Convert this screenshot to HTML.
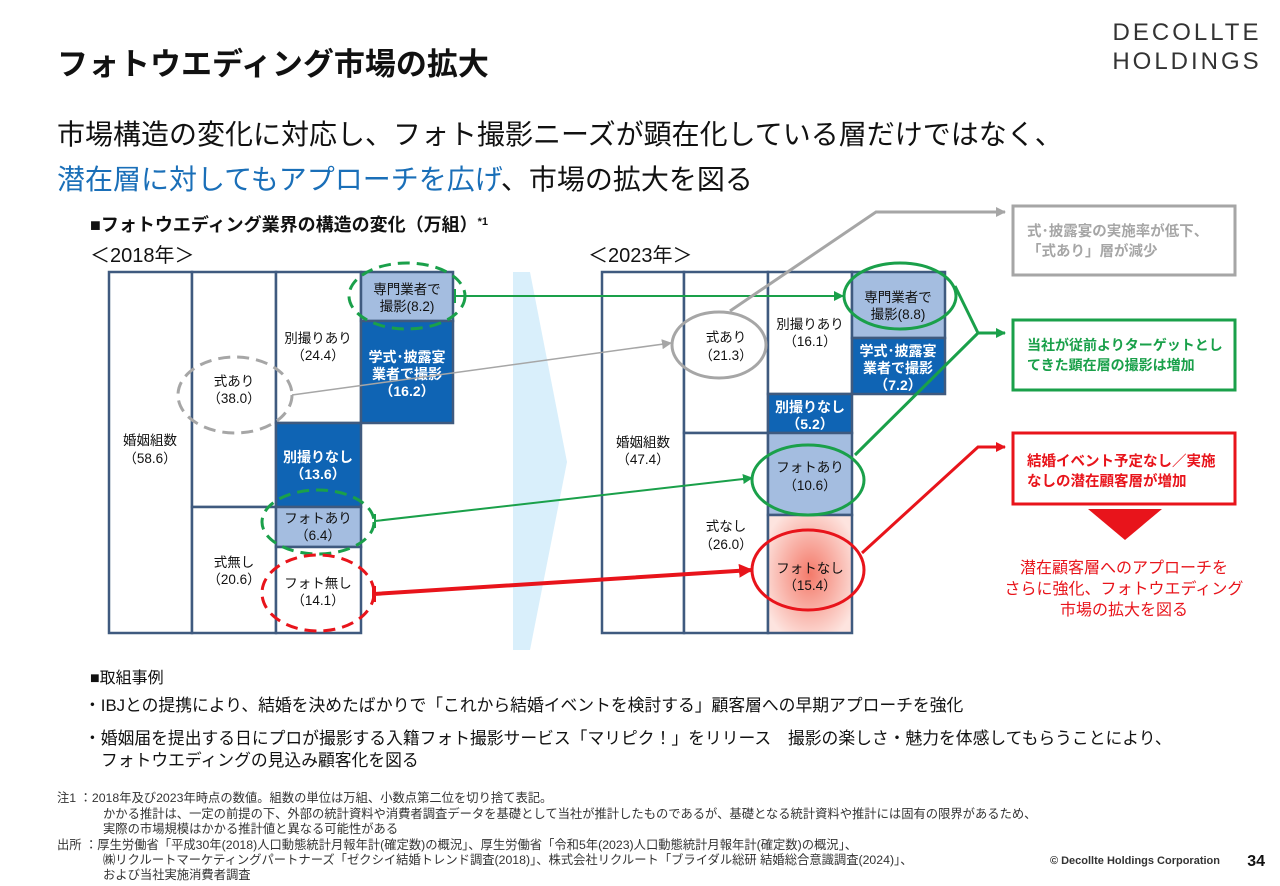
<!DOCTYPE html>
<html><head><meta charset="utf-8"><style>
body{margin:0;background:#fff;}
svg{display:block;font-family:"Liberation Sans","Noto Sans CJK JP",sans-serif;}
</style></head><body>
<svg width="1280" height="886" viewBox="0 0 1280 886" xmlns="http://www.w3.org/2000/svg">
<defs>
<radialGradient id="rg" cx="50%" cy="50%" r="60%"><stop offset="0" stop-color="#f47a6a"/><stop offset="1" stop-color="#fde4df"/></radialGradient>
<marker id="ag" markerWidth="10" markerHeight="10" refX="9" refY="5" orient="auto" markerUnits="userSpaceOnUse"><path d="M0,0 L10,5 L0,10z" fill="#1aa04a"/></marker>
<marker id="agr" markerWidth="10" markerHeight="10" refX="9" refY="5" orient="auto" markerUnits="userSpaceOnUse"><path d="M0,0 L10,5 L0,10z" fill="#a6a6a6"/></marker>
<marker id="ar" markerWidth="14" markerHeight="14" refX="13" refY="7" orient="auto" markerUnits="userSpaceOnUse"><path d="M0,0 L14,7 L0,14z" fill="#e8141b"/></marker>
<marker id="ar2" markerWidth="10" markerHeight="10" refX="9" refY="5" orient="auto" markerUnits="userSpaceOnUse"><path d="M0,0 L10,5 L0,10z" fill="#e8141b"/></marker>
</defs>

<text x="57" y="75" font-size="31" font-weight="bold" fill="#111">フォトウエディング市場の拡大</text>
<text x="1187" y="40" font-size="24" fill="#333" text-anchor="middle" letter-spacing="3">DECOLLTE</text>
<text x="1187" y="69" font-size="24" fill="#333" text-anchor="middle" letter-spacing="3">HOLDINGS</text>

<text x="57" y="144" font-size="28" fill="#111">市場構造の変化に対応し、フォト撮影ニーズが顕在化している層だけではなく、</text>
<text x="57" y="189" font-size="28" fill="#111"><tspan fill="#1a6fb8">潜在層に対してもアプローチを広げ</tspan>、市場の拡大を図る</text>

<text x="90" y="231" font-size="18" font-weight="bold" fill="#111">■フォトウエディング業界の構造の変化（万組）<tspan font-size="11" dy="-6">*1</tspan></text>
<text x="90" y="262" font-size="20" fill="#111">＜2018年＞</text>
<text x="588" y="262" font-size="20" fill="#111">＜2023年＞</text>

<path d="M513,272 L530,272 L567,462 L530,650 L513,650 Z" fill="#d9effb"/>

<g stroke="#3f5a7f" stroke-width="2.5" fill="#fff">
<rect x="109" y="272" width="83" height="361"/>
<rect x="192" y="272" width="84" height="235"/>
<rect x="192" y="507" width="84" height="126"/>
<rect x="276" y="272" width="85" height="151"/>
<rect x="276" y="423" width="85" height="84" fill="#0f64b4"/>
<rect x="276" y="507" width="85" height="40" fill="#a4bde0"/>
<rect x="276" y="547" width="85" height="86"/>
<rect x="361" y="272" width="92" height="49" fill="#a4bde0"/>
<rect x="361" y="321" width="92" height="102" fill="#0f64b4"/>
<rect x="602" y="272" width="82" height="361"/>
<rect x="684" y="272" width="84" height="161"/>
<rect x="684" y="433" width="84" height="200"/>
<rect x="768" y="272" width="84" height="122"/>
<rect x="768" y="394" width="84" height="39" fill="#0f64b4"/>
<rect x="768" y="433" width="84" height="82" fill="#a4bde0"/>
<rect x="768" y="515" width="84" height="118" fill="url(#rg)"/>
<rect x="852" y="272" width="93" height="66" fill="#a4bde0"/>
<rect x="852" y="338" width="93" height="56" fill="#0f64b4"/>
</g>

<g font-size="13.5" text-anchor="middle" fill="#111">
<text x="150" y="445">婚姻組数</text><text x="150" y="463">（58.6）</text>
<text x="234" y="386">式あり</text><text x="234" y="403">（38.0）</text>
<text x="234" y="567">式無し</text><text x="234" y="584">（20.6）</text>
<text x="318" y="343">別撮りあり</text><text x="318" y="360">（24.4）</text>
<text x="318" y="523">フォトあり</text><text x="318" y="540">（6.4）</text>
<text x="318" y="588">フォト無し</text><text x="318" y="605">（14.1）</text>
<text x="407" y="294">専門業者で</text><text x="407" y="311">撮影(8.2)</text>
<g fill="#fff" font-weight="bold" font-size="14"><text x="407" y="362">学式･披露宴</text><text x="407" y="379">業者で撮影</text><text x="407" y="396">（16.2）</text>
<text x="318" y="462">別撮りなし</text><text x="318" y="479">（13.6）</text>
<text x="810" y="412">別撮りなし</text><text x="810" y="429">（5.2）</text>
<text x="898" y="356">学式･披露宴</text><text x="898" y="373">業者で撮影</text><text x="898" y="390">（7.2）</text></g>
<text x="643" y="447">婚姻組数</text><text x="643" y="464">（47.4）</text>
<text x="726" y="342">式あり</text><text x="726" y="360">（21.3）</text>
<text x="726" y="531">式なし</text><text x="726" y="549">（26.0）</text>
<text x="810" y="329">別撮りあり</text><text x="810" y="346">（16.1）</text>
<text x="810" y="472">フォトあり</text><text x="810" y="490">（10.6）</text>
<text x="810" y="573">フォトなし</text><text x="810" y="590">（15.4）</text>
<text x="898" y="302">専門業者で</text><text x="898" y="319">撮影(8.8)</text>
</g>

<g fill="none" stroke-width="3" stroke-dasharray="12,7">
<ellipse cx="407" cy="296" rx="58" ry="33" stroke="#1aa04a"/>
<ellipse cx="235" cy="395" rx="57" ry="38" stroke="#a6a6a6"/>
<ellipse cx="318" cy="522" rx="56" ry="32" stroke="#1aa04a"/>
<ellipse cx="318" cy="593" rx="56" ry="38" stroke="#e8141b"/>
</g>
<g fill="none" stroke-width="3">
<ellipse cx="719" cy="345" rx="47" ry="33" stroke="#a6a6a6"/>
<ellipse cx="900" cy="296" rx="56" ry="33" stroke="#1aa04a"/>
<ellipse cx="808" cy="480" rx="56" ry="35" stroke="#1aa04a"/>
<ellipse cx="808" cy="570" rx="56" ry="40" stroke="#e8141b"/>
</g>

<path d="M455,289 V303 M455,296 H843" stroke="#1aa04a" stroke-width="2" fill="none" marker-end="url(#ag)"/>
<path d="M292,395 L671,343" stroke="#a6a6a6" stroke-width="1.5" fill="none" marker-end="url(#agr)"/>
<path d="M375,514 V528 M375,521 L752,478" stroke="#1aa04a" stroke-width="2" fill="none" marker-end="url(#ag)"/>
<path d="M374,586 V602 M374,594 L752,570" stroke="#e8141b" stroke-width="4" fill="none" marker-end="url(#ar)"/>
<path d="M730,311 L876,212 L1005,212" stroke="#a6a6a6" stroke-width="3" fill="none" marker-end="url(#agr)"/>
<path d="M955,286 L978,333 M855,455 L978,333 L1005,333" stroke="#1aa04a" stroke-width="3" fill="none" marker-end="url(#ag)"/>
<path d="M862,553 L978,447 L1005,447" stroke="#e8141b" stroke-width="3" fill="none" marker-end="url(#ar2)"/>

<rect x="1013" y="206" width="222" height="69" fill="#fff" stroke="#a6a6a6" stroke-width="3"/>
<text x="1027" y="236" font-size="14.5" font-weight="bold" fill="#a6a6a6">式･披露宴の実施率が低下、</text>
<text x="1027" y="256" font-size="14.5" font-weight="bold" fill="#a6a6a6">「式あり」層が減少</text>
<rect x="1013" y="320" width="222" height="70" fill="#fff" stroke="#1aa04a" stroke-width="3"/>
<text x="1027" y="350" font-size="14" font-weight="bold" fill="#1aa04a">当社が従前よりターゲットとし</text>
<text x="1027" y="370" font-size="14" font-weight="bold" fill="#1aa04a">てきた顕在層の撮影は増加</text>
<rect x="1013" y="433" width="222" height="71" fill="#fff" stroke="#e8141b" stroke-width="3"/>
<text x="1027" y="466" font-size="14.5" font-weight="bold" fill="#e8141b">結婚イベント予定なし／実施</text>
<text x="1027" y="486" font-size="14.5" font-weight="bold" fill="#e8141b">なしの潜在顧客層が増加</text>
<path d="M1088,509 L1162,509 L1125,540 Z" fill="#e8141b"/>
<g font-size="16" fill="#e8141b" text-anchor="middle">
<text x="1124" y="573">潜在顧客層へのアプローチを</text>
<text x="1124" y="594">さらに強化、フォトウエディング</text>
<text x="1124" y="615">市場の拡大を図る</text></g>

<text x="90" y="683" font-size="16" fill="#111">■取組事例</text>
<g font-size="16.8" fill="#111">
<text x="84" y="711">・IBJとの提携により、結婚を決めたばかりで「これから結婚イベントを検討する」顧客層への早期アプローチを強化</text>
<text x="84" y="744">・婚姻届を提出する日にプロが撮影する入籍フォト撮影サービス「マリピク！」をリリース　撮影の楽しさ・魅力を体感してもらうことにより、</text>
<text x="101" y="766">フォトウエディングの見込み顧客化を図る</text></g>

<g font-size="12.3" fill="#333">
<text x="57" y="802">注1 ：2018年及び2023年時点の数値。組数の単位は万組、小数点第二位を切り捨て表記。</text>
<text x="103" y="818">かかる推計は、一定の前提の下、外部の統計資料や消費者調査データを基礎として当社が推計したものであるが、基礎となる統計資料や推計には固有の限界があるため、</text>
<text x="103" y="833">実際の市場規模はかかる推計値と異なる可能性がある</text>
<text x="57" y="849">出所 ：厚生労働省「平成30年(2018)人口動態統計月報年計(確定数)の概況」、厚生労働省「令和5年(2023)人口動態統計月報年計(確定数)の概況」、</text>
<text x="103" y="864">㈱リクルートマーケティングパートナーズ「ゼクシイ結婚トレンド調査(2018)」、株式会社リクルート「ブライダル総研 結婚総合意識調査(2024)」、</text>
<text x="103" y="879">および当社実施消費者調査</text>
</g>
<text x="1220" y="864" font-size="11" font-weight="bold" fill="#333" text-anchor="end">© Decollte Holdings Corporation</text>
<text x="1265" y="866" font-size="16" font-weight="bold" fill="#111" text-anchor="end">34</text>
</svg>
</body></html>
